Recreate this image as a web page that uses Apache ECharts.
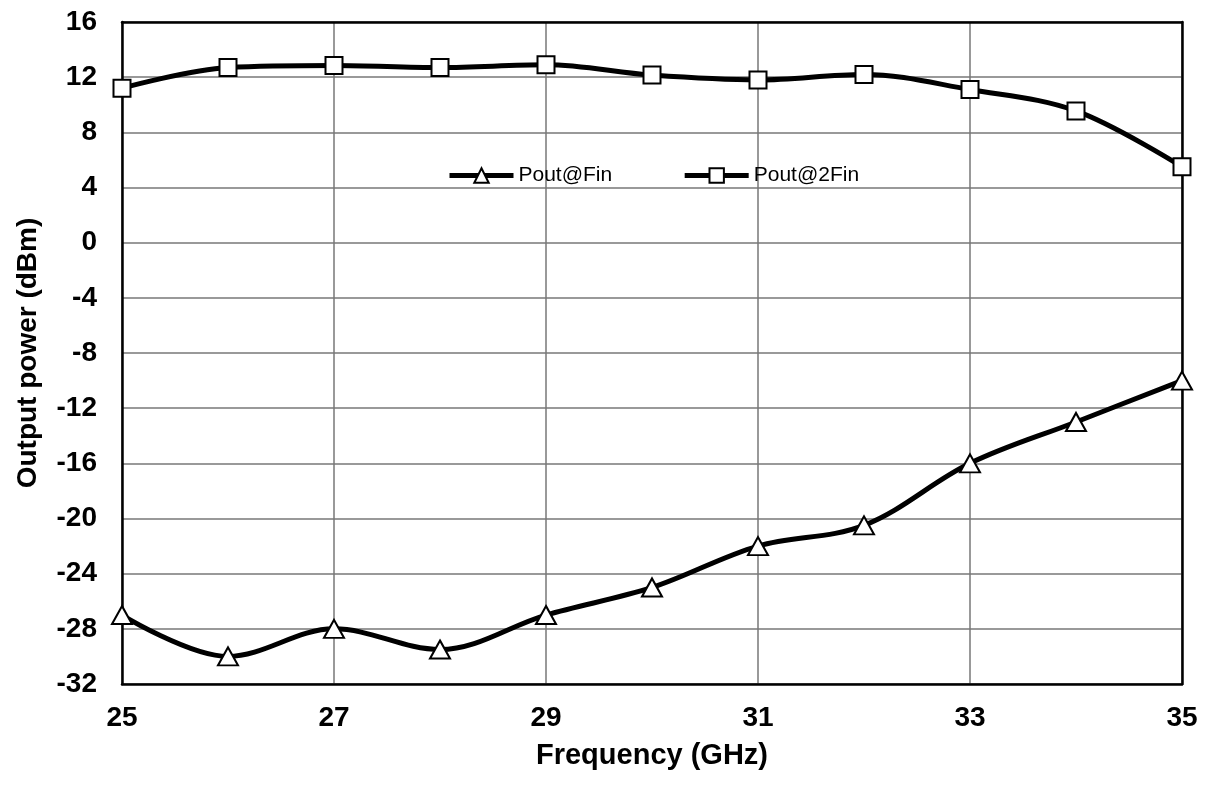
<!DOCTYPE html>
<html>
<head>
<meta charset="utf-8">
<script src="https://cdn.jsdelivr.net/npm/echarts@6/dist/echarts.min.js"></script>
<style>html,body{margin:0;padding:0;background:#fff;}#c{width:1210px;height:785px;}</style>
</head>
<body>
<div id="c"></div>
<script>
const frequencies = ['25','26','27','28','29','30','31','32','33','34','35'];
const poutFin = [-27, -30, -28, -29.5, -27, -25, -22, -20.5, -16, -13, -10];
const pout2Fin = [11.2, 12.7, 12.85, 12.7, 12.9, 12.15, 11.8, 12.2, 11.1, 9.55, 5.5];
const yTicks = { min: -32, max: 16, interval: 4 };

const chart = echarts.init(document.getElementById('c'));
const font = 'Liberation Sans, Arial, sans-serif';
const lineW = 5;
chart.setOption({
  backgroundColor: '#fff',
  animation: false,
  grid: { left: 122, right: 28, top: 22, bottom: 101 },
  legend: {
    left: 442, top: 160, itemWidth: 64, itemHeight: 18, itemGap: 70,
    textStyle: { fontFamily: font, fontSize: 21, color: '#000' },
    lineStyle: { width: lineW, color: '#000' },
    data: ['Pout@Fin', 'Pout@2Fin']
  },
  xAxis: [{
    type: 'category', data: frequencies, boundaryGap: false,
    name: 'Frequency (GHz)', nameLocation: 'middle', nameGap: 57,
    nameTextStyle: { fontFamily: font, fontSize: 29, fontWeight: 'bold', color: '#000' },
    axisLine: { onZero: false, lineStyle: { color: '#000', width: 2.5 } },
    axisTick: { show: false },
    axisLabel: { interval: 1, margin: 20, fontFamily: font, fontSize: 28, fontWeight: 'bold', color: '#000' },
    splitLine: { show: true, interval: 1, lineStyle: { color: '#777', width: 1.5 } }
  }, {
    type: 'category', data: frequencies, boundaryGap: false, position: 'top',
    axisLine: { onZero: false, lineStyle: { color: '#000', width: 2.5 } },
    axisTick: { show: false }, axisLabel: { show: false }, splitLine: { show: false }
  }],
  yAxis: [{
    type: 'value', min: yTicks.min, max: yTicks.max, interval: yTicks.interval,
    name: 'Output power (dBm)', nameLocation: 'middle', nameGap: 80,
    nameTextStyle: { fontFamily: font, fontSize: 28, fontWeight: 'bold', color: '#000' },
    axisLine: { show: true, onZero: false, lineStyle: { color: '#000', width: 2.5 } },
    axisTick: { show: false },
    axisLabel: { margin: 25, fontFamily: font, fontSize: 28, fontWeight: 'bold', color: '#000' },
    splitLine: { show: true, lineStyle: { color: '#777', width: 1.5 } }
  }, {
    type: 'value', min: yTicks.min, max: yTicks.max, interval: yTicks.interval, position: 'right',
    axisLine: { show: true, onZero: false, lineStyle: { color: '#000', width: 2.5 } },
    axisTick: { show: false }, axisLabel: { show: false }, splitLine: { show: false }
  }],
  series: [
    {
      name: 'Pout@Fin', type: 'line', data: poutFin, smooth: 0.35,
      symbol: 'triangle', symbolSize: [20, 18],
      lineStyle: { color: '#000', width: lineW },
      itemStyle: { color: '#fff', borderColor: '#000', borderWidth: 2 },
      z: 3
    },
    {
      name: 'Pout@2Fin', type: 'line', data: pout2Fin, smooth: 0.35,
      symbol: 'rect', symbolSize: 17,
      lineStyle: { color: '#000', width: lineW },
      itemStyle: { color: '#fff', borderColor: '#000', borderWidth: 2 },
      z: 3
    }
  ]
});
</script>
</body>
</html>
